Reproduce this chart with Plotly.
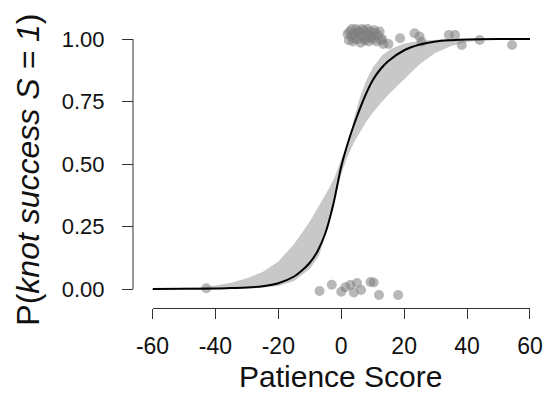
import plotly.graph_objects as go

# Fitted curve
curve_x = [-60, -50, -40, -35, -30, -25, -20, -15, -12.5, -10, -7.5, -5, -2.5, 0, 2.5, 5, 7.5, 10, 12.5, 15, 20, 25, 30, 35, 40, 50, 60]
curve_p = [0.0, 0.001, 0.002, 0.004, 0.006, 0.011, 0.023, 0.05, 0.074, 0.105, 0.152, 0.225, 0.34, 0.49, 0.6, 0.69, 0.77, 0.835, 0.88, 0.912, 0.955, 0.978, 0.99, 0.995, 0.998, 1.0, 1.0]

# Uncertainty band (upper / lower edges)
band_x = [-60, -50, -45, -40, -35, -30, -25, -20, -15, -10, -7, -4, -2, 0, 2, 4, 6, 8, 10, 13, 16, 20, 25, 30, 35, 40, 45, 50, 60]
band_hi = [0.0005, 0.003, 0.007, 0.014, 0.025, 0.043, 0.068, 0.11, 0.18, 0.27, 0.335, 0.40, 0.45, 0.52, 0.575, 0.68, 0.77, 0.835, 0.885, 0.935, 0.962, 0.982, 0.993, 0.998, 1.0, 1.0, 1.0, 1.0, 1.0]
band_lo = [0.0, 0.0, 0.0003, 0.0005, 0.001, 0.002, 0.005, 0.012, 0.032, 0.08, 0.135, 0.27, 0.37, 0.46, 0.53, 0.585, 0.63, 0.67, 0.705, 0.75, 0.79, 0.84, 0.9, 0.945, 0.972, 0.988, 0.996, 1.0, 1.0]

# Observed (jittered) outcomes
succ_x = [2.0, 2.4, 2.7, 3.2, 3.4, 3.7, 4.2, 4.5, 4.7, 5.2, 5.5, 5.7, 6.2, 6.6, 6.7, 7.2, 7.5, 7.7, 8.2, 8.4, 8.7, 9.2, 9.5, 9.7,
          10.2, 10.5, 10.7, 11.2, 11.7, 12.2, 12.7, 13.0, 13.4,
          15.0, 18.7, 23.3, 24.9, 25.5, 34.2, 36.2, 38.3, 44.0, 54.3]
succ_y = [1.02, 0.995, 1.03, 1.01, 1.04, 0.99, 1.02, 1.0, 1.04, 1.0, 1.03, 1.025, 0.985, 1.04, 1.01, 1.035, 0.995, 1.0, 1.02, 1.04, 0.99, 1.03, 1.005, 1.01,
          1.0, 1.035, 1.025, 0.99, 1.015, 1.03, 0.995, 1.0, 0.98,
          0.98, 1.003, 1.023, 1.01, 0.99, 1.016, 1.016, 0.976, 0.996, 0.976]
fail_x = [-42.9, -6.9, -3.0, 0.0, 1.3, 2.9, 4.0, 5.0, 6.3, 9.3, 10.3, 12.0, 18.1]
fail_y = [0.003, -0.008, 0.017, -0.011, 0.007, 0.016, -0.014, 0.024, -0.004, 0.028, 0.026, -0.024, -0.024]

ytick_vals = [0, 0.25, 0.5, 0.75, 1.0]
ytick_text = ["0.00", "0.25", "0.50", "0.75", "1.00"]
xtick_vals = [-60, -40, -20, 0, 20, 40, 60]
xtick_text = ["-60", "-40", "-20", "0", "20", "40", "60"]

FONT = "Liberation Sans, Arial, sans-serif"
AX = "#333333"

fig = go.Figure()
fig.add_trace(go.Scatter(x=band_x + band_x[::-1], y=band_hi + band_lo[::-1], fill="toself",
                         fillcolor="rgb(200,200,200)", line=dict(width=0), mode="lines",
                         hoverinfo="skip", showlegend=False))
fig.add_trace(go.Scatter(x=succ_x + fail_x, y=succ_y + fail_y, mode="markers",
                         marker=dict(size=10, color="rgba(125,125,125,0.55)", line=dict(width=0)),
                         showlegend=False))
fig.add_trace(go.Scatter(x=curve_x, y=curve_p, mode="lines", line=dict(color="black", width=2, shape="spline", smoothing=0.8),
                         showlegend=False))

L, R, T, B = 133, 15, 19, 87
pw = 555 - L - R
ph = 395 - T - B

fig.update_layout(
    width=555, height=395,
    margin=dict(l=L, r=R, t=T, b=B),
    paper_bgcolor="white", plot_bgcolor="white",
    font=dict(family=FONT, size=22, color="#111111"),
    xaxis=dict(domain=[20 / pw, 1], range=[-60, 60], tickvals=xtick_vals, ticktext=xtick_text, ticks="outside", ticklen=10,
               tickcolor=AX, showline=True, linecolor=AX, linewidth=1, showgrid=False, zeroline=False,
               ticklabelstandoff=7, tickfont=dict(size=23)),
    yaxis=dict(anchor="free", position=0, range=[-0.076, 1.08], tickvals=ytick_vals, ticktext=ytick_text,
               ticks="outside", ticklen=11, tickcolor=AX, showline=False, showgrid=False, zeroline=False,
               ticklabelstandoff=13, tickfont=dict(size=22)),
    shapes=[dict(type="line", xref="paper", yref="y", x0=0, x1=0, y0=0, y1=1,
                 line=dict(color=AX, width=1))],
    annotations=[
        dict(text="Patience Score", xref="paper", yref="paper", x=(346 - L) / pw, y=(T + ph - 376) / ph,
             xanchor="center", yanchor="middle", showarrow=False, font=dict(size=30, color="#111111")),
        dict(text="P(<i>knot success S = 1</i>)", xref="paper", yref="paper", x=(25 - L) / pw,
             y=(T + ph - 170) / ph, xanchor="center", yanchor="middle", textangle=-90, showarrow=False,
             font=dict(size=32, color="#111111")),
    ],
)

fig.write_html("out.html")
